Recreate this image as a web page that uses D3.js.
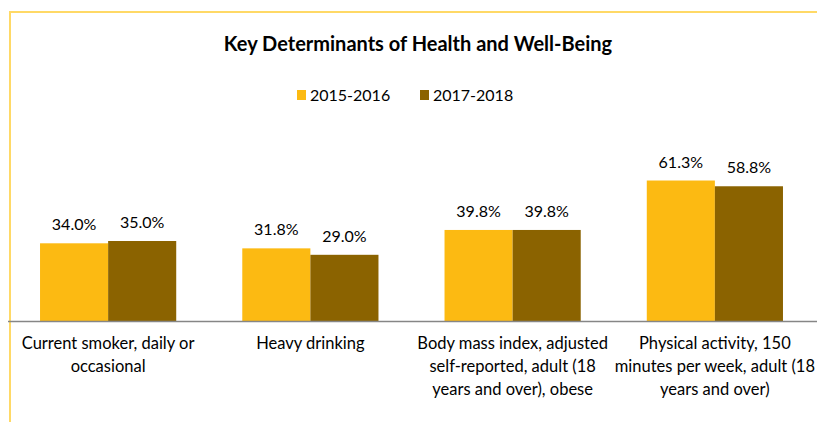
<!DOCTYPE html>
<html>
<head>
<meta charset="utf-8">
<script src="https://cdn.jsdelivr.net/npm/d3@7"></script>
<style>
  body { margin: 0; background: #fff; }
  text { font-family: Lato, "Open Sans", sans-serif; fill: #000; }
</style>
</head>
<body>
<script>

var categories = [
  "Current smoker, daily or\noccasional",
  "Heavy drinking",
  "Body mass index, adjusted\nself-reported, adult (18\nyears and over), obese",
  "Physical activity, 150\nminutes per week, adult (18\nyears and over)"
]
var seriesNames = ["2015-2016", "2017-2018"]
var values2015 = [34.0, 31.8, 39.8, 61.3]
var values2017 = [35.0, 29.0, 39.8, 58.8]
var colors = ["#FCBA12", "#8B6300"]

var W = 817, H = 422

var svg = d3.select("body").append("svg")
  .attr("width", W)
  .attr("height", H)

/* cadre */
svg.append("line")
  .attr("x1", 10).attr("x2", W)
  .attr("y1", 12).attr("y2", 12)
  .attr("stroke", "#FFD966").attr("stroke-width", 2)
svg.append("line")
  .attr("x1", 10).attr("x2", 10)
  .attr("y1", 11).attr("y2", H)
  .attr("stroke", "#FFD966").attr("stroke-width", 2)

/* titre */
svg.append("text")
  .attr("x", 418)
  .attr("y", 51)
  .attr("text-anchor", "middle")
  .attr("font-size", "20px")
  .attr("font-weight", "bold")
  .text("Key Determinants of Health and Well-Being")

/* legende */
var legend = svg.selectAll("g.legend")
  .data(seriesNames)
  .enter()
  .append("g")
  .attr("class", "legend")
  .attr("transform", function(d, i){ return "translate(" + (297 + i*123) + ",0)" })

legend.append("rect")
  .attr("x", 0).attr("y", 90)
  .attr("width", 9).attr("height", 10)
  .attr("fill", function(d, i){ return colors[i] })

legend.append("text")
  .attr("x", 13).attr("y", 101)
  .attr("font-size", "16px")
  .text(function(d){ return d })

/* echelles */
var x0 = d3.scaleBand()
  .domain(categories)
  .range([7, 816])

var x1 = d3.scaleBand()
  .domain(seriesNames)
  .range([0, x0.bandwidth()])
  .paddingOuter(0.485)

var y = d3.scaleLinear()
  .domain([0, 80])
  .range([321.5, 137.5])

var data = categories.map(function(c, i){
  return { cat: c, vals: [values2015[i], values2017[i]] }
})

var groups = svg.selectAll("g.group")
  .data(data)
  .enter()
  .append("g")
  .attr("class", "group")
  .attr("transform", function(d){ return "translate(" + x0(d.cat) + ",0)" })

groups.selectAll("rect")
  .data(function(d){ return d.vals })
  .enter()
  .append("rect")
  .attr("x", function(d, i){ return x1(seriesNames[i]) })
  .attr("y", function(d){ return y(d) })
  .attr("width", x1.bandwidth())
  .attr("height", function(d){ return y(0) - y(d) })
  .attr("fill", function(d, i){ return colors[i] })

groups.selectAll("text.value")
  .data(function(d){ return d.vals })
  .enter()
  .append("text")
  .attr("class", "value")
  .attr("x", function(d, i){ return x1(seriesNames[i]) + x1.bandwidth()/2 })
  .attr("y", function(d){ return y(d) - 13 })
  .attr("text-anchor", "middle")
  .attr("font-size", "16px")
  .text(function(d){ return d3.format(".1f")(d) + "%" })

/* axe */
svg.append("line")
  .attr("x1", 8).attr("x2", W)
  .attr("y1", y(0)).attr("y2", y(0))
  .attr("stroke", "#868686").attr("stroke-width", 1.5)

var catLabels = svg.selectAll("text.cat")
  .data(categories)
  .enter()
  .append("text")
  .attr("class", "cat")
  .attr("text-anchor", "middle")
  .attr("font-size", "16.5px")

catLabels.each(function(d){
  var t = d3.select(this)
  var cx = x0(d) + x0.bandwidth()/2
  d.split("\n").forEach(function(line, k){
    t.append("tspan")
      .attr("x", cx)
      .attr("y", 349 + k*23)
      .text(line)
  })
})

</script>
</body>
</html>
